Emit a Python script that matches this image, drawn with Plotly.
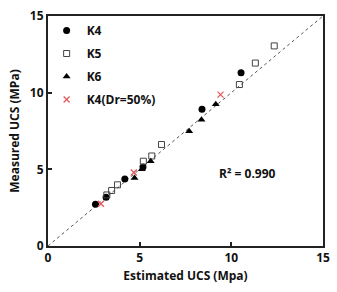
import plotly.graph_objects as go

k4_x = [2.59, 3.17, 4.19, 5.18, 8.4, 10.53]
k4_y = [2.73, 3.18, 4.37, 5.15, 8.92, 11.3]
k5_x = [3.21, 3.47, 3.79, 5.2, 5.66, 6.19, 10.44, 11.31, 12.34]
k5_y = [3.33, 3.62, 3.99, 5.53, 5.87, 6.62, 10.53, 11.93, 13.05]
k6_x = [4.72, 5.12, 5.6, 7.7, 8.37, 9.15]
k6_y = [4.43, 5.0, 5.53, 7.48, 8.24, 9.24]
k4dr_x = [2.89, 4.68, 9.41]
k4dr_y = [2.75, 4.79, 9.87]
line_x = [0, 15]
line_y = [0, 15]

FONT = "Open Sans"
fig = go.Figure()
fig.add_trace(go.Scatter(x=line_x, y=line_y, mode="lines", showlegend=False,
                         line=dict(color="#555", width=1, dash="dot"), hoverinfo="skip"))
fig.add_trace(go.Scatter(x=k4_x, y=k4_y, mode="markers", name="K4", legendgroup="a",
                         marker=dict(symbol="circle", size=7, color="black")))
fig.add_trace(go.Scatter(x=k5_x, y=k5_y, mode="markers", name="K5", legendgroup="b",
                         marker=dict(symbol="square-open", size=6, color="#444", line=dict(width=1))))
fig.add_trace(go.Scatter(x=k6_x, y=k6_y, mode="markers", name="K6", legendgroup="c",
                         marker=dict(symbol="triangle-up", size=7, color="black")))
fig.add_trace(go.Scatter(x=k4dr_x, y=k4dr_y, mode="markers", name="K4(Dr=50%)", legendgroup="d",
                         marker=dict(symbol="x-thin", size=6, color="#e05a5a",
                                     line=dict(width=1.3, color="#e05a5a"))))

axis_common = dict(range=[0, 15], tickvals=[0, 5, 10, 15], ticks="inside", ticklen=4,
                   tickwidth=1.5, tickcolor="#222", showline=True, linecolor="#222",
                   linewidth=2, mirror=True, showgrid=False, zeroline=False,
                   tickfont=dict(family=FONT, size=12, color="#111", weight="bold"))
fig.update_xaxes(**axis_common,
                 title=dict(text="Estimated UCS (Mpa)", standoff=6,
                            font=dict(family=FONT, size=12, color="#111", weight="bold")))
fig.update_yaxes(**axis_common,
                 title=dict(text="Measured UCS (MPa)", standoff=8,
                            font=dict(family=FONT, size=12, color="#111", weight="bold")))

fig.add_annotation(x=10.9, y=4.7, text="R² = 0.990", showarrow=False,
                   font=dict(family=FONT, size=12, color="#111", weight="bold"))

fig.update_layout(
    width=337, height=292,
    margin=dict(l=48, r=7, t=10, b=46),
    plot_bgcolor="white", paper_bgcolor="white",
    legend=dict(x=-0.005, y=1.0, xanchor="left", yanchor="top", tracegroupgap=4,
                itemwidth=30, bgcolor="rgba(0,0,0,0)",
                font=dict(family=FONT, size=12, color="#111", weight="bold")),
)
fig.write_html("out.html")
